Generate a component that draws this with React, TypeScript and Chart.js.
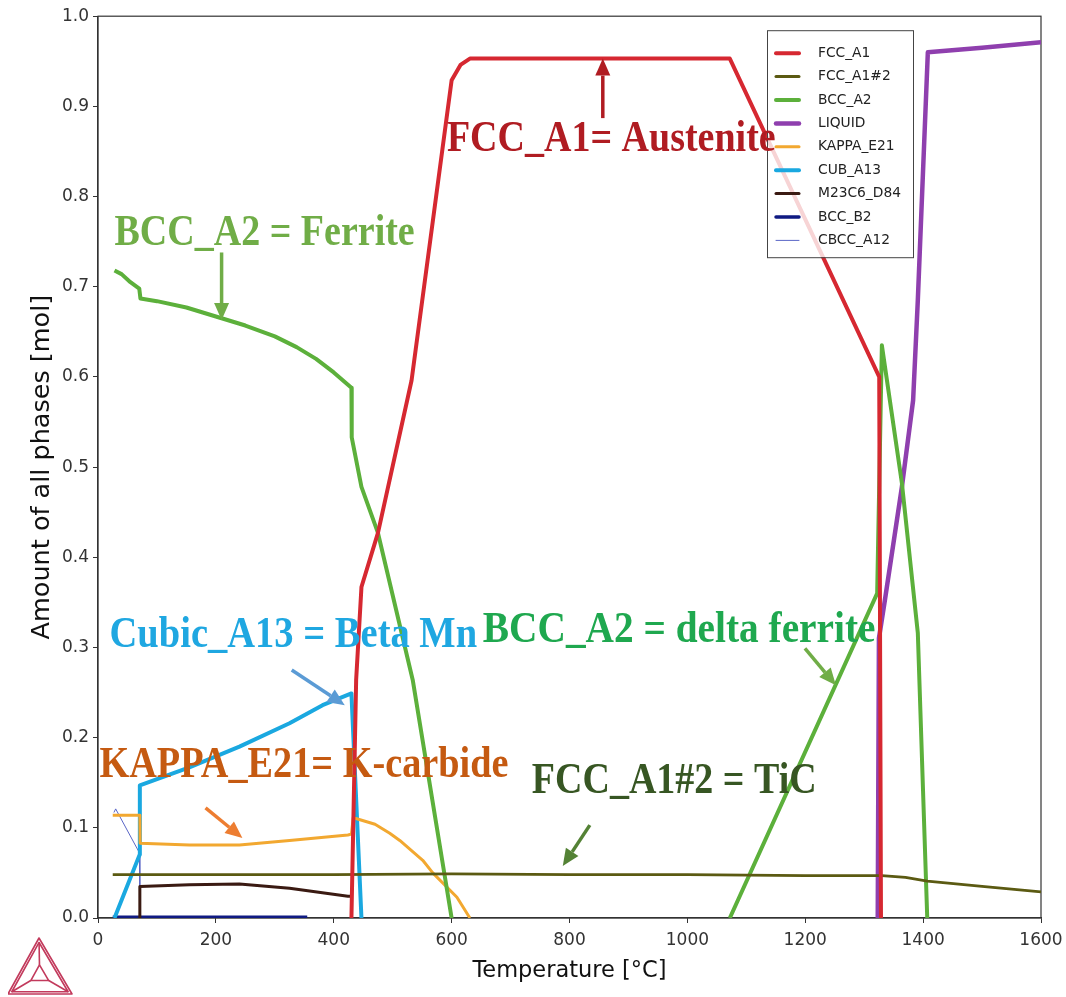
import React, { useEffect, useRef } from "react";
import { Chart, registerables } from "chart.js";

Chart.register(...registerables);

// ---------- tick labels ----------
const xTickValues = [0, 200, 400, 600, 800, 1000, 1200, 1400, 1600];
const yTickValues = [0, 0.1, 0.2, 0.3, 0.4, 0.5, 0.6, 0.7, 0.8, 0.9, 1.0];

// ---------- series (temperature °C, amount mol) ----------
const fccA1T = [430, 438, 447, 475, 532, 600, 615, 631, 1072, 1325.5, 1328.5];
const fccA1Y = [0, 0.264, 0.367, 0.427, 0.596, 0.929, 0.946, 0.953, 0.953, 0.6, 0];

const fccA1n2T = [25, 200, 400, 600, 800, 1000, 1200, 1330, 1370, 1407, 1500, 1600];
const fccA1n2Y = [0.048, 0.048, 0.048, 0.049, 0.048, 0.048, 0.047, 0.047, 0.045, 0.041, 0.035, 0.029];

const bccA2LowT = [28, 40, 55, 70, 72, 100, 150, 200, 250, 300, 337, 370, 400, 430, 430.5, 447, 475, 534, 600];
const bccA2LowY = [0.718, 0.714, 0.705, 0.698, 0.687, 0.684, 0.677, 0.667, 0.657, 0.645, 0.633, 0.62, 0.605, 0.588, 0.533, 0.478, 0.427, 0.264, 0];

const bccA2HighT = [1072, 1322, 1330, 1364, 1391, 1407];
const bccA2HighY = [0, 0.36, 0.635, 0.482, 0.316, 0];

const liquidT = [1323, 1325, 1335, 1364, 1383, 1391, 1408, 1500, 1600];
const liquidY = [0, 0.31, 0.352, 0.478, 0.574, 0.685, 0.96, 0.965, 0.971];

const kappaT = [25, 71, 71.5, 155, 240, 325, 424, 430, 433, 439, 470, 495, 512, 551, 568, 609, 631];
const kappaY = [0.114, 0.114, 0.083, 0.081, 0.081, 0.086, 0.092, 0.093, 0.111, 0.11, 0.104, 0.094, 0.086, 0.064, 0.05, 0.023, 0];

const cubT = [28, 70.5, 71, 155, 240, 325, 381, 430, 447];
const cubY = [0, 0.07, 0.147, 0.167, 0.19, 0.216, 0.236, 0.249, 0];

const m23c6T = [70.5, 71, 155, 240, 325, 424, 428];
const m23c6Y = [0, 0.035, 0.037, 0.0377, 0.033, 0.024, 0.024];

const bccB2T = [25, 355];
const bccB2Y = [0.001, 0.001];

const cbccT = [27, 30, 70.5, 71];
const cbccY = [0.117, 0.121, 0.072, 0];

const pts = (t: number[], y: number[]) => t.map((v, i) => ({ x: v, y: y[i] }));

// ---------- legend entries ----------
const legendNames = ["FCC_A1", "FCC_A1#2", "BCC_A2", "LIQUID", "KAPPA_E21", "CUB_A13", "M23C6_D84", "BCC_B2", "CBCC_A12"];
const legendColors = ["#d62831", "#5b5a12", "#5cb03b", "#8f3fae", "#f2a830", "#1aa8e0", "#3a1a12", "#0f1a82", "#5a66c6"];
const legendWidths = [4, 3, 4, 4.5, 3, 4, 3, 3.5, 1];

// ---------- annotations (data coordinates) ----------
const annotations = [
  { text: "FCC_A1= Austenite", color: "#b01c22", t: 592, v: 0.851, sx: 1, arrow: { c: "#b01c22", t1: 856.5, v1: 0.887, t2: 856.5, v2: 0.953 } },
  { text: "BCC_A2 = Ferrite", color: "#70ad47", t: 28, v: 0.746, sx: 1, arrow: { c: "#70ad47", t1: 209.7, v1: 0.738, t2: 209.7, v2: 0.663 } },
  { text: "Cubic_A13 = Beta Mn", color: "#1fa7e1", t: 19.5, v: 0.301, sx: 1.014, arrow: { c: "#5b9bd5", t1: 328.7, v1: 0.275, t2: 418.7, v2: 0.236 } },
  { text: "BCC_A2 = delta ferrite", color: "#1fa84f", t: 653, v: 0.306, sx: 1.035, arrow: { c: "#70ad47", t1: 1199.5, v1: 0.299, t2: 1252, v2: 0.258 } },
  { text: "KAPPA_E21= K-carbide", color: "#c55a11", t: 2.5, v: 0.156, sx: 1.007, arrow: { c: "#ed7d31", t1: 182.5, v1: 0.122, t2: 245, v2: 0.0887 } },
  { text: "FCC_A1#2 = TiC", color: "#375623", t: 736, v: 0.139, sx: 1, arrow: { c: "#548235", t1: 834.5, v1: 0.103, t2: 788.6, v2: 0.0576 } },
];

function drawArrow(ctx: CanvasRenderingContext2D, x1: number, y1: number, x2: number, y2: number, color: string) {
  const ang = Math.atan2(y2 - y1, x2 - x1);
  const headL = 17;
  const headW = 7.5;
  const bx = x2 - Math.cos(ang) * headL;
  const by = y2 - Math.sin(ang) * headL;
  ctx.save();
  ctx.strokeStyle = color;
  ctx.fillStyle = color;
  ctx.lineWidth = 3.5;
  ctx.beginPath();
  ctx.moveTo(x1, y1);
  ctx.lineTo(bx, by);
  ctx.stroke();
  ctx.beginPath();
  ctx.moveTo(x2, y2);
  ctx.lineTo(bx + Math.sin(ang) * headW, by - Math.cos(ang) * headW);
  ctx.lineTo(bx - Math.sin(ang) * headW, by + Math.cos(ang) * headW);
  ctx.closePath();
  ctx.fill();
  ctx.restore();
}

const framePlugin = {
  id: "frame",
  beforeDatasetsDraw(chart: any) {
    const { ctx, chartArea } = chart;
    ctx.save();
    ctx.strokeStyle = "#333";
    ctx.lineWidth = 1.2;
    ctx.strokeRect(chartArea.left, chartArea.top, chartArea.right - chartArea.left, chartArea.bottom - chartArea.top);
    ctx.restore();
  },
};

const overlayPlugin = {
  id: "overlay",
  afterDatasetsDraw(chart: any) {
    const { ctx, chartArea, scales } = chart;
    const xs = scales.x;
    const ys = scales.y;
    // legend box
    const bw = 146;
    const bh = 227;
    const bx = chartArea.left + 669;
    const by = chartArea.top + 14;
    ctx.save();
    ctx.fillStyle = "rgba(255,255,255,0.8)";
    ctx.fillRect(bx, by, bw, bh);
    ctx.strokeStyle = "#444";
    ctx.lineWidth = 1;
    ctx.strokeRect(bx + 0.5, by + 0.5, bw, bh);
    ctx.font = '13.8px "DejaVu Sans"';
    ctx.textBaseline = "middle";
    legendNames.forEach((name, i) => {
      const ry = by + 23 + i * 23.4;
      ctx.strokeStyle = legendColors[i];
      ctx.lineWidth = legendWidths[i];
      ctx.lineCap = "round";
      ctx.beginPath();
      ctx.moveTo(bx + 9, ry);
      ctx.lineTo(bx + 32, ry);
      ctx.stroke();
      ctx.fillStyle = "#222";
      ctx.fillText(name, bx + 51, ry);
    });
    ctx.restore();

    // annotations
    annotations.forEach((a) => {
      ctx.save();
      ctx.font = 'bold 38px "Liberation Serif"';
      ctx.fillStyle = a.color;
      ctx.textBaseline = "alphabetic";
      ctx.textAlign = "left";
      ctx.translate(xs.getPixelForValue(a.t), ys.getPixelForValue(a.v));
      ctx.scale(a.sx, 1.14);
      ctx.fillText(a.text, 0, 0);
      ctx.restore();
      drawArrow(
        ctx,
        xs.getPixelForValue(a.arrow.t1),
        ys.getPixelForValue(a.arrow.v1),
        xs.getPixelForValue(a.arrow.t2),
        ys.getPixelForValue(a.arrow.v2),
        a.arrow.c
      );
    });

    // logo (bottom-left)
    const H = chart.height;
    const A = [31, H - 59];
    const B = [0, H - 3];
    const C = [64, H - 3];
    const G = [(A[0] + B[0] + C[0]) / 3, (A[1] + B[1] + C[1]) / 3];
    const lerp = (p: number[], f: number) => [p[0] + (G[0] - p[0]) * f, p[1] + (G[1] - p[1]) * f];
    const tri = (ps: number[][]) => {
      ctx.beginPath();
      ctx.moveTo(ps[0][0], ps[0][1]);
      ctx.lineTo(ps[1][0], ps[1][1]);
      ctx.lineTo(ps[2][0], ps[2][1]);
      ctx.closePath();
      ctx.stroke();
    };
    ctx.save();
    ctx.strokeStyle = "#c23a5c";
    ctx.lineWidth = 1.6;
    ctx.lineJoin = "round";
    tri([A, B, C]);
    const inner = [lerp(A, 0.12), lerp(B, 0.12), lerp(C, 0.12)];
    tri(inner);
    const core = [lerp(A, 0.72), lerp(B, 0.72), lerp(C, 0.72)];
    tri(core);
    for (let i = 0; i < 3; i++) {
      ctx.beginPath();
      ctx.moveTo(inner[i][0], inner[i][1]);
      ctx.lineTo(core[i][0], core[i][1]);
      ctx.stroke();
    }
    ctx.restore();
  },
};

const CW = 1058;
const CH = 995;

export default function App() {
  const canvasRef = useRef<HTMLCanvasElement | null>(null);

  useEffect(() => {
    if (!canvasRef.current) return;
    const mk = (label: string, t: number[], y: number[], color: string, w: number) => ({
      label,
      data: pts(t, y),
      borderColor: color,
      backgroundColor: color,
      borderWidth: w,
      pointRadius: 0,
      tension: 0,
      fill: false,
      borderJoinStyle: "round" as const,
      borderCapStyle: "butt" as const,
    });
    const datasets = [
      mk("FCC_A1", fccA1T, fccA1Y, legendColors[0], 4),
      mk("FCC_A1#2", fccA1n2T, fccA1n2Y, legendColors[1], 2.8),
      mk("BCC_A2", bccA2LowT, bccA2LowY, legendColors[2], 4),
      mk("BCC_A2 (high)", bccA2HighT, bccA2HighY, legendColors[2], 4),
      mk("LIQUID", liquidT, liquidY, legendColors[3], 4.5),
      mk("KAPPA_E21", kappaT, kappaY, legendColors[4], 3),
      mk("CUB_A13", cubT, cubY, legendColors[5], 4),
      mk("M23C6_D84", m23c6T, m23c6Y, legendColors[6], 3),
      mk("BCC_B2", bccB2T, bccB2Y, legendColors[7], 3),
      mk("CBCC_A12", cbccT, cbccY, legendColors[8], 1),
    ];
    const chart = new Chart(canvasRef.current, {
      type: "line",
      data: { datasets },
      plugins: [framePlugin, overlayPlugin],
      options: {
        responsive: false,
        maintainAspectRatio: false,
        animation: false,
        layout: { padding: { top: 0, right: 0, left: 0, bottom: 0 } },
        plugins: { legend: { display: false }, tooltip: { enabled: false } },
        scales: {
          x: {
            type: "linear",
            min: 0,
            max: 1600,
            afterBuildTicks: (s: any) => {
              s.ticks = xTickValues.map((v) => ({ value: v }));
            },
            afterFit: (s: any) => {
              s.height = 79;
              s.paddingRight = 25;
            },
            ticks: {
              color: "#333",
              font: { family: "DejaVu Sans", size: 17 },
              padding: 7,
              maxRotation: 0,
              autoSkip: false,
              callback: (v: any) => String(v),
            },
            grid: { drawOnChartArea: false, drawTicks: true, tickLength: 5, color: "#333" },
            border: { display: true, color: "#333", width: 1.2 },
            title: {
              display: true,
              text: "Temperature [°C]",
              color: "#111",
              font: { family: "DejaVu Sans", size: 22.5 },
              padding: { top: 0, bottom: 12 },
            },
          },
          y: {
            type: "linear",
            min: 0,
            max: 1,
            afterBuildTicks: (s: any) => {
              s.ticks = yTickValues.map((v) => ({ value: v }));
            },
            afterFit: (s: any) => {
              s.width = 90;
            },
            ticks: {
              color: "#333",
              font: { family: "DejaVu Sans", size: 17 },
              padding: 4,
              autoSkip: false,
              callback: (v: any) => Number(v).toFixed(1),
            },
            grid: { drawOnChartArea: false, drawTicks: true, tickLength: 5, color: "#333" },
            border: { display: true, color: "#333", width: 1.2 },
            title: {
              display: true,
              text: "Amount of all phases [mol]",
              color: "#111",
              font: { family: "DejaVu Sans", size: 25.5 },
              padding: { top: 19, bottom: 0 },
            },
          },
        },
      },
    });
    return () => chart.destroy();
  }, []);

  return (
    <div style={{ position: "relative", width: CW, height: CH, marginLeft: 8, paddingTop: 2 }}>
      <style>{"body{margin:0}"}</style>
      <canvas ref={canvasRef} width={CW} height={CH} style={{ display: "block", width: CW, height: CH }} />
    </div>
  );
}
